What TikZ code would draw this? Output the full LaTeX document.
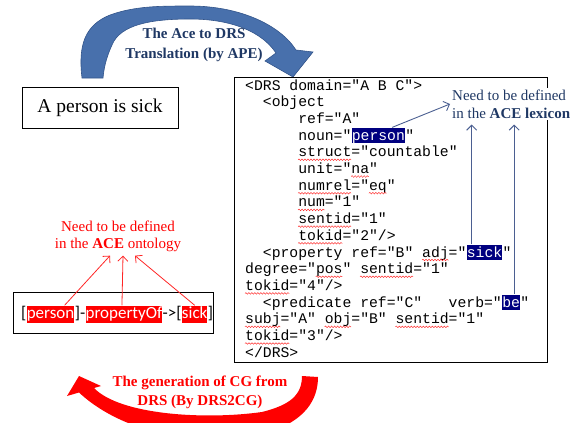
\documentclass[tikz,border=0pt]{standalone}
\usepackage{fontspec}
\setmainfont{Liberation Serif}
\newfontfamily\codefont{Liberation Mono}
\newfontfamily\cgfont{Carlito}
\usetikzlibrary{arrows.meta,decorations.pathmorphing}

\definecolor{drsnavy}{RGB}{0,0,128}
\definecolor{labelblue}{RGB}{31,56,100}
\definecolor{bandblue}{RGB}{72,112,172}
\definecolor{bandedge}{RGB}{50,84,138}
\definecolor{linkblue}{RGB}{75,95,145}

\begin{document}
\begin{tikzpicture}[x=1pt, y=-1pt,
        code/.style={anchor=base west, inner sep=0pt, font=\codefont\fontsize{14.75}{16.7}\selectfont},
        drshl/.style={code, fill=drsnavy, text=white, text height=12.5pt, text depth=3pt},
        cg/.style={anchor=base west, inner sep=0pt, font=\cgfont\fontsize{17}{20}\selectfont},
        cghl/.style={cg, fill=red, text=white, text height=12.5pt, text depth=4.5pt},
        textbox/.style={draw, line width=0.8pt, inner sep=0pt},
        spellwave/.style={draw=red!80, line width=0.5pt, decorate, decoration={snake, segment length=3pt, amplitude=0.8pt}},
        linkarrow/.style={draw=linkblue, line width=0.9pt, -{Straight Barb[length=5pt, width=10pt]}},
        ontoarrow/.style={draw=red!85, line width=0.8pt, -{Straight Barb[length=5pt, width=10pt]}}]
    \useasboundingbox (0,0) rectangle (574,423);

    % curved arrows
    \filldraw[fill=bandblue, draw=bandedge, line width=0.6pt] (82,78) .. controls (78,45) and (85,25) .. (110,15)
        .. controls (135,6) and (160,6) .. (190,6)
        .. controls (240,6) and (280,25) .. (296,50)
        -- (313,52) -- (293,77) -- (265,61) -- (276,53)
        .. controls (262,32) and (232,19) .. (190,19)
        .. controls (150,19) and (120,25) .. (112,45)
        .. controls (106,58) and (104,68) .. (103,78) -- cycle;
    \fill[red] (318,377) .. controls (318,400) and (305,420) .. (270,432)
        .. controls (220,448) and (130,440) .. (79,392.5)
        -- (67,396) -- (79,376) -- (101,386) -- (94,388)
        .. controls (120,415) and (205,420) .. (262,412)
        .. controls (290,405) and (302,395) .. (302,376) -- cycle;

    \node[font=\bfseries\fontsize{15}{20}\selectfont, text=labelblue, align=center] (apelabel) at (194,45)
        {The Ace to DRS\\Translation (by APE)};
    \node[font=\bfseries\fontsize{15}{19}\selectfont, text=red, align=center] (cglabel) at (200,392)
        {The generation of CG from\\DRS (By DRS2CG)};

    % sentence
    \node[textbox, minimum width=156, minimum height=41, font=\fontsize{19.5}{22}\selectfont] (sentence) at (100,107.5)
        {A person is sick};

    % DRS
    \node[textbox, minimum width=313, minimum height=285, anchor=north west] (drs) at (234,77) {};
    \node[code] (l1) at (245,90) {<DRS domain="A B C">};
    \node[code] (l2) at (262.7,106.7) {<object};
    \node[code] (l3) at (298.1,123.4) {ref="A"};
    \node[code] (l4) at (298.1,140.1) {noun="};
    \node[drshl] (drsperson) at (l4.base east) {person};
    \node[code] (l4b) at (drsperson.base east) {"};
    \node[code] (l5) at (298.1,156.8) {struct="countable"};
    \node[code] (l6) at (298.1,173.5) {unit="na"};
    \node[code] (l7) at (298.1,190.2) {numrel="eq"};
    \node[code] (l8) at (298.1,206.9) {num="1"};
    \node[code] (l9) at (298.1,223.6) {sentid="1"};
    \node[code] (l10) at (298.1,240.3) {tokid="2"/>};
    \node[code] (l11) at (262.7,257) {<property ref="B" adj="};
    \node[drshl] (drssick) at (l11.base east) {sick};
    \node[code] (l11b) at (drssick.base east) {"};
    \node[code] (l12) at (245,273.7) {degree="pos" sentid="1"};
    \node[code] (l13) at (245,290.4) {tokid="4"/>};
    \node[code] (l14) at (262.7,307.1) {<predicate ref="C"\ \ \ verb="};
    \node[drshl] (drsbe) at (l14.base east) {be};
    \node[code] (l14b) at (drsbe.base east) {"};
    \node[code] (l15) at (245,323.8) {subj="A" obj="B" sentid="1"};
    \node[code] (l16) at (245,340.5) {tokid="3"/>};
    \node[code] (l17) at (245,357.2) {</DRS>};

    % spell-check squiggles: line / first char / chars
    \foreach \ln/\col/\len in {l5/0/6, l6/6/2, l7/0/6, l7/8/2, l8/0/3, l9/0/6, l10/0/5,
            l11/18/3, l12/8/3, l12/13/6, l13/0/5, l15/0/4, l15/9/3, l15/17/6, l16/0/5}
        \draw[spellwave] ([shift={(\col*8.85,3)}]\ln.base west) -- ++(\len*8.85,0);

    \node[fill=white, inner sep=2pt, anchor=west, align=left, text=labelblue,
          font=\fontsize{15}{18}\selectfont] (lexicon) at (450,104)
        {Need to be defined\\in the \textbf{ACE lexicon}};
    \draw[linkarrow] ([xshift=-13pt]drsperson.north east) -- (lexicon.west);
    \draw[linkarrow] ([xshift=5pt]drssick.north west) -- ([xshift=5pt, yshift=-4pt]drssick.north west |- lexicon.south);
    \draw[linkarrow] ([xshift=-6pt]drsbe.north east) -- ([xshift=-6pt, yshift=-4pt]drsbe.north east |- lexicon.south);

    % conceptual graph
    \node[textbox, minimum width=200, minimum height=41] (cgbox) at (113,312.5) {};
    \node[cg] (cgopen) at (21,318) {[};
    \node[cghl] (cgperson) at (cgopen.base east) {person};
    \node[cg] (cgdash) at (cgperson.base east) {]-};
    \node[cghl] (cgprop) at (cgdash.base east) {propertyOf};
    \node[cg] (cgto) at (cgprop.base east) {->[};
    \node[cghl] (cgsick) at (cgto.base east) {sick};
    \node[cg] (cgclose) at (cgsick.base east) {]};

    \node[text=red, align=center, font=\fontsize{15}{17.5}\selectfont] (ontology) at (118,236.5)
        {Need to be defined\\in the \textbf{ACE} ontology};
    \draw[ontoarrow] ([xshift=-10pt]cgperson.north east) -- ([xshift=-8pt]ontology.south);
    \draw[ontoarrow] ([xshift=-2pt]cgprop.north) -- ([xshift=5pt]ontology.south);
    \draw[ontoarrow] (cgsick.north) -- ([xshift=17pt]ontology.south);
\end{tikzpicture}
\end{document}
